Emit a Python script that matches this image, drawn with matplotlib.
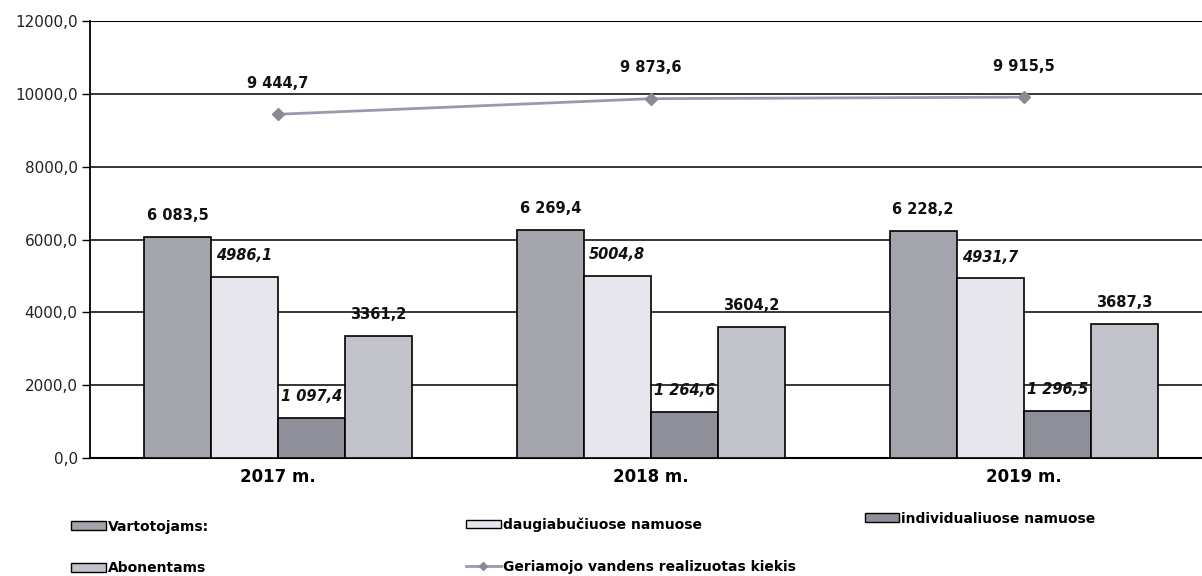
import matplotlib
matplotlib.use("Agg")

import matplotlib.pyplot as plt
import numpy as np
from matplotlib.lines import Line2D
from matplotlib.patches import Patch

# ── Data ────────────────────────────────────────────────────────────────────
years = ["2017 m.", "2018 m.", "2019 m."]
vartotojams = [6083.5, 6269.4, 6228.2]
daugiabuciuose = [4986.1, 5004.8, 4931.7]
individualiuose = [1097.4, 1264.6, 1296.5]
abonentams = [3361.2, 3604.2, 3687.3]
realizuotas = [9444.7, 9873.6, 9915.5]

lbl_vart = ["6 083,5", "6 269,4", "6 228,2"]
lbl_daug = ["4986,1", "5004,8", "4931,7"]
lbl_ind = ["1 097,4", "1 264,6", "1 296,5"]
lbl_abon = ["3361,2", "3604,2", "3687,3"]
lbl_real = ["9 444,7", "9 873,6", "9 915,5"]

yticks = [0, 2000, 4000, 6000, 8000, 10000, 12000]

# ── Palette ─────────────────────────────────────────────────────────────────
C_VART = "#a4a4ad"
C_DAUG = "#e6e6ec"
C_IND = "#8f8f99"
C_ABON = "#c2c2ca"
C_LINE = "#9a9aac"

fig = plt.figure(figsize=(12.02, 5.76), dpi=100)
ax = fig.add_axes([0.075, 0.205, 0.925, 0.758])

x = np.arange(len(years))
w = 0.18
series = [
    (vartotojams, C_VART, lbl_vart, "normal"),
    (daugiabuciuose, C_DAUG, lbl_daug, "italic"),
    (individualiuose, C_IND, lbl_ind, "italic"),
    (abonentams, C_ABON, lbl_abon, "normal"),
]
for i, (vals, col, lbls, style) in enumerate(series):
    pos = x + (i - 1.5) * w
    ax.bar(pos, vals, width=w, color=col, edgecolor="black",
           linewidth=1.2, zorder=3)
    for px, v, t in zip(pos, vals, lbls):
        ax.annotate(t, (px, v), xytext=(0, 10), textcoords="offset points",
                    ha="center", va="bottom", fontsize=10.5,
                    fontweight="bold", fontstyle=style, color="#111111",
                    zorder=4)

ax.plot(x, realizuotas, color=C_LINE, linewidth=2, marker="D",
        markersize=6, markerfacecolor="#8a8a96", markeredgecolor="#8a8a96",
        zorder=5)
for px, v, t in zip(x, realizuotas, lbl_real):
    ax.annotate(t, (px, v), xytext=(0, 17), textcoords="offset points",
                ha="center", va="bottom", fontsize=10.5,
                fontweight="bold", color="#111111")

ax.set_xlim(-0.504, 2.478)
ax.set_ylim(0, 12000)
ax.set_yticks(yticks)
ax.set_yticklabels([f"{v:.1f}".replace(".", ",") for v in yticks],
                   fontsize=11, color="#222222")
ax.set_xticks(x)
ax.set_xticklabels(years, fontsize=12, fontweight="bold")
ax.tick_params(axis="x", length=0, pad=7)
ax.tick_params(axis="y", length=6, width=1, pad=3)
ax.yaxis.grid(True, color="black", linewidth=1.1, zorder=0)
ax.set_axisbelow(True)
for side in ["top", "right"]:
    ax.spines[side].set_visible(False)
ax.spines["left"].set_linewidth(1.3)
ax.spines["bottom"].set_linewidth(1.5)
ax.axhline(12000, color="black", linewidth=1.5, zorder=1)

# ── Legend (three columns) ──────────────────────────────────────────────────
leg_kw = dict(frameon=False, handlelength=2.5, handleheight=0.55,
              handletextpad=0.15, labelspacing=2.0, borderpad=0,
              prop={"weight": "bold", "size": 10})
col1 = [Patch(facecolor=C_VART, edgecolor="black"),
        Patch(facecolor=C_ABON, edgecolor="black")]
fig.legend(col1, ["Vartotojams:", "Abonentams"], loc="upper left",
           bbox_to_anchor=(0.0533, 0.11), **leg_kw)
col2 = [Patch(facecolor=C_DAUG, edgecolor="black"),
        Line2D([], [], color=C_LINE, linewidth=2, marker="D",
               markersize=4, markerfacecolor="#8a8a96",
               markeredgecolor="#8a8a96")]
fig.legend(col2, ["daugiabučiuose namuose",
                  "Geriamojo vandens realizuotas kiekis"],
           loc="upper left", bbox_to_anchor=(0.382, 0.114), **leg_kw)
col3 = [Patch(facecolor=C_IND, edgecolor="black")]
fig.legend(col3, ["individualiuose namuose"], loc="upper left",
           bbox_to_anchor=(0.7135, 0.124), **leg_kw)

fig.savefig("out.png", dpi=100, facecolor="white")
plt.close(fig)
